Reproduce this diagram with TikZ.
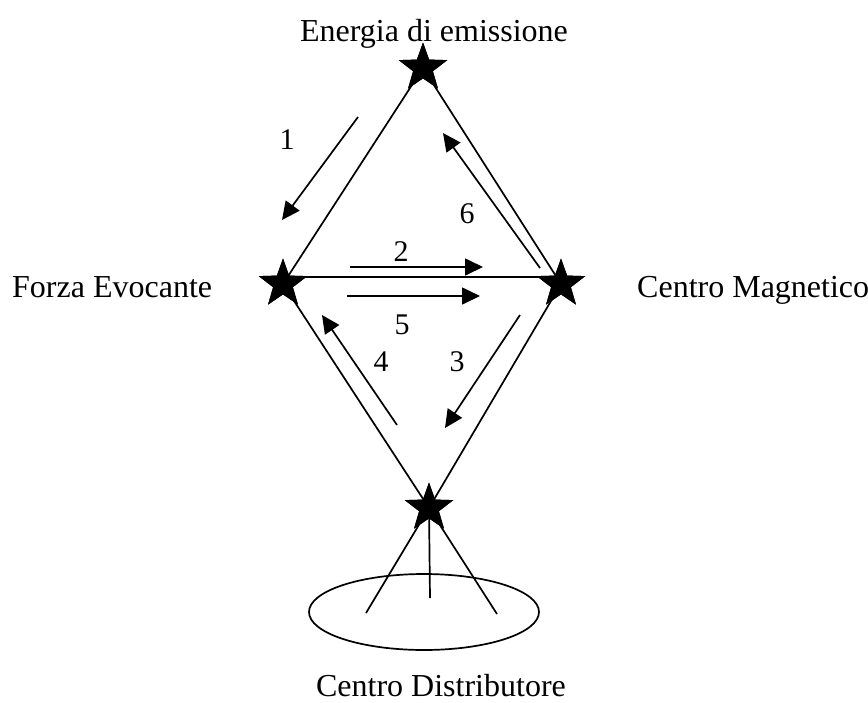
\documentclass[tikz,border=0pt]{standalone}
\usepackage{fontspec}
\setmainfont{Liberation Serif}
\usetikzlibrary{shapes.geometric,arrows.meta}
\begin{document}
\begin{tikzpicture}[x=1pt,y=-1pt,
  starnode/.style={star,star points=5,star point ratio=2.45,minimum size=51pt,inner sep=0pt,fill=black,draw=none},
  edgeline/.style={line width=1.7pt},
  flow/.style={line width=1.7pt,-{Triangle[length=18pt,width=17pt]}},
  lab/.style={font=\fontsize{32}{38}\selectfont,inner sep=0pt},
  num/.style={font=\fontsize{30}{36}\selectfont,inner sep=0pt}]
\useasboundingbox (0,0) rectangle (868,702);
% star positions
\node[starnode] (T) at (423,68) {};
\node[starnode] (L) at (283,284) {};
\node[starnode] (R) at (561,284) {};
\node[starnode] (B) at (429,508) {};
% edges
\draw[edgeline] (T.center) -- (L.center);
\draw[edgeline] (T.center) -- (R.center);
\draw[edgeline] (L.center) -- (B.center);
\draw[edgeline] (R.center) -- (B.center);
\draw[edgeline] ([yshift=7pt]L.center) -- ([yshift=7pt,xshift=-20pt]R.center);
% distributor
\node[draw,ellipse,line width=1.7pt,minimum width=230pt,minimum height=76pt,inner sep=0pt] (E) at (424,612) {};
\coordinate (s1) at (366,613);
\coordinate (s2) at (430,598);
\coordinate (s3) at (497,614);
\draw[edgeline] (B.center) -- (s1);
\draw[edgeline] (B.center) -- (s2);
\draw[edgeline] (B.center) -- (s3);
% redraw stars on top
\foreach \n in {T,L,R,B} \node[starnode] at (\n) {};
% flow arrows
\coordinate (a1s) at (358,117); \coordinate (a1e) at (282,220);
\coordinate (a6s) at (540,268); \coordinate (a6e) at (443,133);
\coordinate (a2s) at (350,267); \coordinate (a2e) at (483,267);
\coordinate (a5s) at (347,296); \coordinate (a5e) at (480,296);
\coordinate (a4s) at (397,425); \coordinate (a4e) at (322,315);
\coordinate (a3s) at (520,315); \coordinate (a3e) at (445,428);
\draw[flow] (a1s) -- (a1e);
\draw[flow] (a6s) -- (a6e);
\draw[flow] (a2s) -- (a2e);
\draw[flow] (a5s) -- (a5e);
\draw[flow] (a4s) -- (a4e);
\draw[flow] (a3s) -- (a3e);
% numbers
\node[num] (n1) at (287,140) {1};
\node[num] (n6) at (467,214) {6};
\node[num] (n2) at (401,252) {2};
\node[num] (n5) at (402,325) {5};
\node[num] (n4) at (381,362) {4};
\node[num] (n3) at (457,362) {3};
% labels
\node[lab,anchor=base] (tE) at (434,41) {Energia di emissione};
\node[lab,anchor=base west] (tF) at (12,297) {Forza Evocante};
\node[lab,anchor=base west] (tM) at (637,297) {Centro Magnetico};
\node[lab,anchor=base] (tD) at (441,696) {Centro Distributore};
\end{tikzpicture}
\end{document}
